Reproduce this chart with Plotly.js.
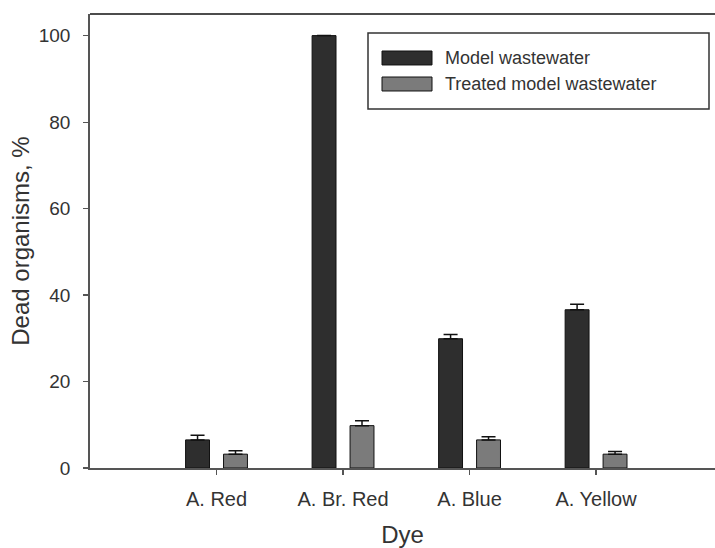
<!DOCTYPE html>
<html><head><meta charset="utf-8">
<script src="https://cdn.plot.ly/plotly-3.0.1.min.js"></script>
<style>body{margin:0;background:#fff}#c{width:715px;height:548px}</style>
</head><body><div id="c"></div>
<script>
var categories = ["A. Red", "A. Br. Red", "A. Blue", "A. Yellow"];
var modelValues = [6.5, 100, 29.9, 36.6];
var modelErrors = [1.1, 0, 1.0, 1.3];
var treatedValues = [3.2, 9.8, 6.5, 3.2];
var treatedErrors = [0.8, 1.1, 0.7, 0.6];
var seriesNames = ["Model wastewater", "Treated model wastewater"];
var seriesColors = ["#2e2e2e", "#7b7b7b"];
var yTicks = [0, 20, 40, 60, 80, 100];

var font = "Arial, 'Liberation Sans', sans-serif";
function zeros(a){ return a.map(function(){ return 0; }); }
var traces = [
  {type: "bar", name: seriesNames[0], x: categories, y: modelValues, showlegend: false,
   marker: {color: seriesColors[0], line: {color: "#111", width: 1}},
   error_y: {type: "data", array: modelErrors, arrayminus: zeros(modelErrors), symmetric: false, color: "#111", thickness: 1.5, width: 7}},
  {type: "bar", name: seriesNames[1], x: categories, y: treatedValues, showlegend: false,
   marker: {color: seriesColors[1], line: {color: "#111", width: 1}},
   error_y: {type: "data", array: treatedErrors, arrayminus: zeros(treatedErrors), symmetric: false, color: "#111", thickness: 1.5, width: 7}}
];

// legend drawn as a box with long swatches (paper coordinates)
var legendRows = [0.9031, 0.8458];
var shapes = [
  {type: "line", xref: "paper", yref: "paper", x0: 0, x1: 1, y0: 1, y1: 1, line: {color: "#111", width: 1.5}},
  {type: "rect", xref: "paper", yref: "paper", x0: 0.4448, x1: 0.9904, y0: 0.7907, y1: 0.9581,
   line: {color: "#333", width: 1.5}, fillcolor: "#fff"}
];
var annotations = [];
seriesNames.forEach(function(name, i){
  shapes.push({type: "rect", xref: "paper", yref: "paper", x0: 0.4672, x1: 0.5472,
    y0: legendRows[i] - 0.0154, y1: legendRows[i] + 0.0154,
    line: {color: "#111", width: 1}, fillcolor: seriesColors[i]});
  annotations.push({xref: "paper", yref: "paper", x: 0.5648, y: legendRows[i],
    xanchor: "left", yanchor: "middle", showarrow: false, text: name,
    font: {family: font, size: 18, color: "#333"}});
});

var layout = {
  width: 715, height: 548,
  margin: {l: 90, r: 0, t: 14, b: 80},
  paper_bgcolor: "#fff", plot_bgcolor: "#fff",
  barmode: "group", bargap: 0.4, bargroupgap: 0.37,
  font: {family: font, color: "#333", size: 19},
  showlegend: false,
  xaxis: {type: "category", categoryorder: "array", categoryarray: categories,
    range: [-1, 3.94], showgrid: false, zeroline: false,
    showline: true, linecolor: "#555", linewidth: 1.8,
    ticks: "outside", ticklen: 5, tickcolor: "#555", tickwidth: 1.2,
    ticklabelstandoff: 7,
    tickfont: {size: 20, color: "#333"},
    title: {text: "Dye", font: {size: 24, color: "#333"}, standoff: 17}},
  yaxis: {range: [0, 105], tickvals: yTicks, showgrid: false, zeroline: false,
    showline: true, linecolor: "#555", linewidth: 1.8,
    ticks: "outside", ticklen: 5, tickcolor: "#555", tickwidth: 1.2,
    ticklabelstandoff: 9,
    tickfont: {size: 19, color: "#333"},
    title: {text: "Dead organisms, %", font: {size: 24, color: "#333"}, standoff: 2}},
  shapes: shapes,
  annotations: annotations
};
Plotly.newPlot("c", traces, layout, {displayModeBar: false, staticPlot: true});
</script></body></html>
